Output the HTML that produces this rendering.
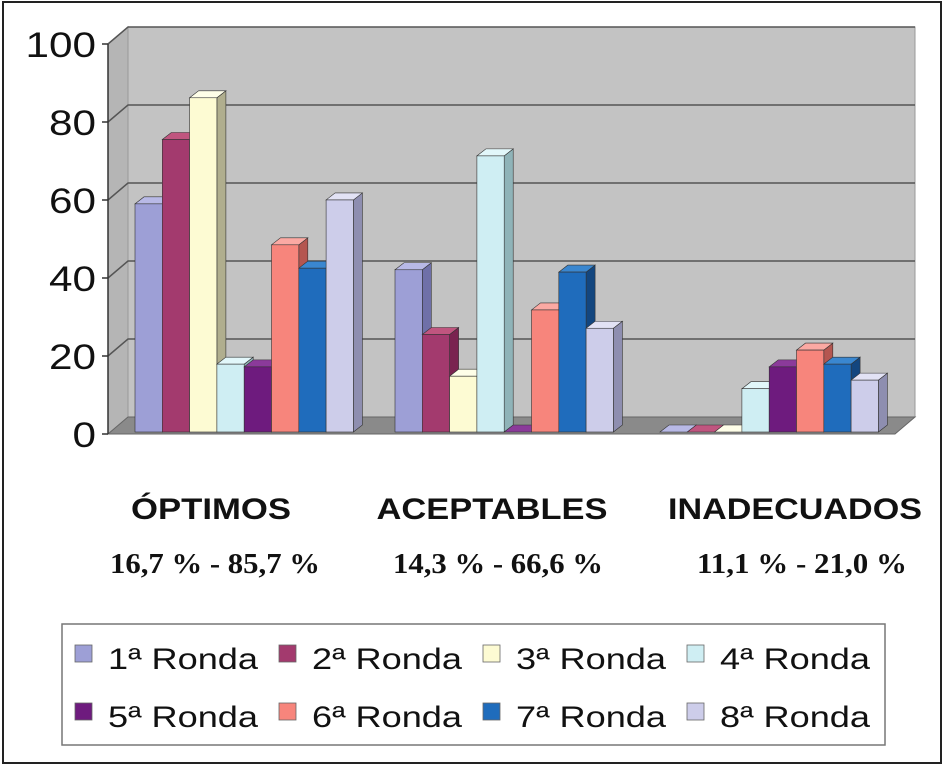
<!DOCTYPE html>
<html><head><meta charset="utf-8">
<style>
html,body{margin:0;padding:0;background:#fff;}
svg{display:block;font-family:"Liberation Sans",Arial,sans-serif;}
</style></head>
<body>
<svg id="chart" width="945" height="767" viewBox="0 0 945 767">
  <rect x="3" y="2" width="938" height="761" fill="#fff" stroke="#222" stroke-width="2"/>
  <g id="plot"></g>
  <g id="bars"></g>
  <g id="labels"></g>
  <g id="legend"></g>
</svg>
<script>
const categories = ["ÓPTIMOS","ACEPTABLES","INADECUADOS"];
const ranges = ["16,7 % - 85,7 %","14,3 % - 66,6 %","11,1 % - 21,0 %"];
const seriesNames = ["1ª Ronda","2ª Ronda","3ª Ronda","4ª Ronda","5ª Ronda","6ª Ronda","7ª Ronda","8ª Ronda"];
const r1 = [58.5, 41.6, 0];
const r2 = [75, 25, 0];
const r3 = [85.7, 14.3, 0];
const r4 = [17.4, 70.8, 11.1];
const r5 = [16.7, 0, 16.7];
const r6 = [48, 31.3, 21];
const r7 = [42, 41, 17.4];
const r8 = [59.5, 26.6, 13.3];
const yTicks = [0,20,40,60,80,100];

const series = [r1,r2,r3,r4,r5,r6,r7,r8];
const colors = ["#9d9fd6","#a33a6e","#fdfbd3","#cfeef3","#6e1b7e","#f7857c","#1f6cbc","#cdcdea"];
const sides  = ["#6f70a8","#7a2350","#b0ae8e","#8fb3b8","#4a0f58","#b55650","#13467f","#8e8eb0"];
const tops   = ["#b8b9e6","#c0557f","#fefee8","#e2f7fa","#8b3a9a","#fba9a3","#3a87d0","#e2e2f5"];
const NS="http://www.w3.org/2000/svg";
function mk(t,a,p){const e=document.createElementNS(NS,t);for(const k in a)e.setAttribute(k,a[k]);p.appendChild(e);return e;}

const x0=108, yBase=434, yTop=44, DX=20, DY=-17;
function yScale(v){return yBase-(v/100)*(yBase-yTop);}
const plot=document.getElementById('plot');
let wall=mk('polygon',{points:`${x0+DX},${yTop+DY} 915,${yTop+DY} 915,${yBase+DY} ${x0+DX},${yBase+DY}`,fill:"#c3c3c3",stroke:"#999"},plot);


let sw=mk('polygon',{points:`${x0},${yTop} ${x0+DX},${yTop+DY} ${x0+DX},${yBase+DY} ${x0},${yBase}`,fill:"#b5b5b5",stroke:"#999"},plot);


let fl=mk('polygon',{points:`${x0},${yBase} ${x0+DX},${yBase+DY} 915,${yBase+DY} 895,${yBase}`,fill:"#8a8a8a",stroke:"#666"},plot);


yTicks.forEach(t=>{
  const y=yScale(t);
  if(t>0){const g=mk('polyline',{points:`${x0},${y} ${x0+DX},${y+DY} 915,${y+DY}`,fill:"none",stroke:"#555","stroke-width":1.5},plot);
  
  }
  const tk=mk('line',{x1:x0-6,y1:y,x2:x0,y2:y,stroke:"#333","stroke-width":1.5},plot);
  
  
  const s=String(t);
  const tx=mk('text',{x:96,y:y+13,"text-anchor":"end","font-size":35,fill:"#111",textLength:s.length*23.5,lengthAdjust:"spacingAndGlyphs"},plot);
  tx.textContent=s;
  
  
});
const ax=mk('line',{x1:x0,y1:yTop,x2:x0,y2:yBase,stroke:"#333","stroke-width":1.5},plot);



const bars=document.getElementById('bars');
const groupStart=[135,395,660], bw=27.3, bdx=9, bdy=-7;
categories.forEach((c,ci)=>{
  series.forEach((s,si)=>{
    const x=groupStart[ci]+si*bw, yb=432;
    const top=Math.min(yScale(s[ci])-2,yb);
    const g=mk('g',{},bars);
    
    
    mk('polygon',{points:`${x+bw},${top} ${x+bw+bdx},${top+bdy} ${x+bw+bdx},${yb+bdy} ${x+bw},${yb}`,fill:sides[si],stroke:"#333","stroke-width":0.6},g);
    mk('polygon',{points:`${x},${top} ${x+bdx},${top+bdy} ${x+bw+bdx},${top+bdy} ${x+bw},${top}`,fill:tops[si],stroke:"#333","stroke-width":0.6},g);
    mk('rect',{x:x,y:top,width:bw,height:Math.max(0,yb-top),fill:colors[si],stroke:"#333","stroke-width":0.6},g);
  });
});

const labels=document.getElementById('labels');
const centers=[211,492,795];
const catWidths=[160,231,254];
const rangeCenters=[215,498,802];
categories.forEach((c,i)=>{
  const t=mk('text',{x:centers[i],y:519,"text-anchor":"middle","font-size":30,"font-weight":"bold",fill:"#111",textLength:catWidths[i],lengthAdjust:"spacingAndGlyphs"},labels);
  t.textContent=c;
  
  
  const r=mk('text',{x:rangeCenters[i],y:573,"text-anchor":"middle","font-size":28,"font-weight":"bold","font-family":"Liberation Serif, serif",fill:"#111",textLength:210,lengthAdjust:"spacingAndGlyphs"},labels);
  r.textContent=ranges[i];
  
  
});

const legend=document.getElementById('legend');
const lb=mk('rect',{x:62,y:624,width:823,height:121,fill:"#fff",stroke:"#777","stroke-width":1.5},legend);


seriesNames.forEach((n,i)=>{
  const col=i%4,row=Math.floor(i/4);
  const x=75+col*204, y=row?719:661;
  const g=mk('g',{},legend);
  
  
  mk('rect',{x:x,y:y-16,width:17,height:17,fill:colors[i],stroke:"#666","stroke-width":0.8},g);
  const t=mk('text',{x:x+33,y:y+8,"font-size":30,fill:"#111",textLength:150,lengthAdjust:"spacingAndGlyphs"},g);
  t.textContent=n;
});
</script>
</body></html>
